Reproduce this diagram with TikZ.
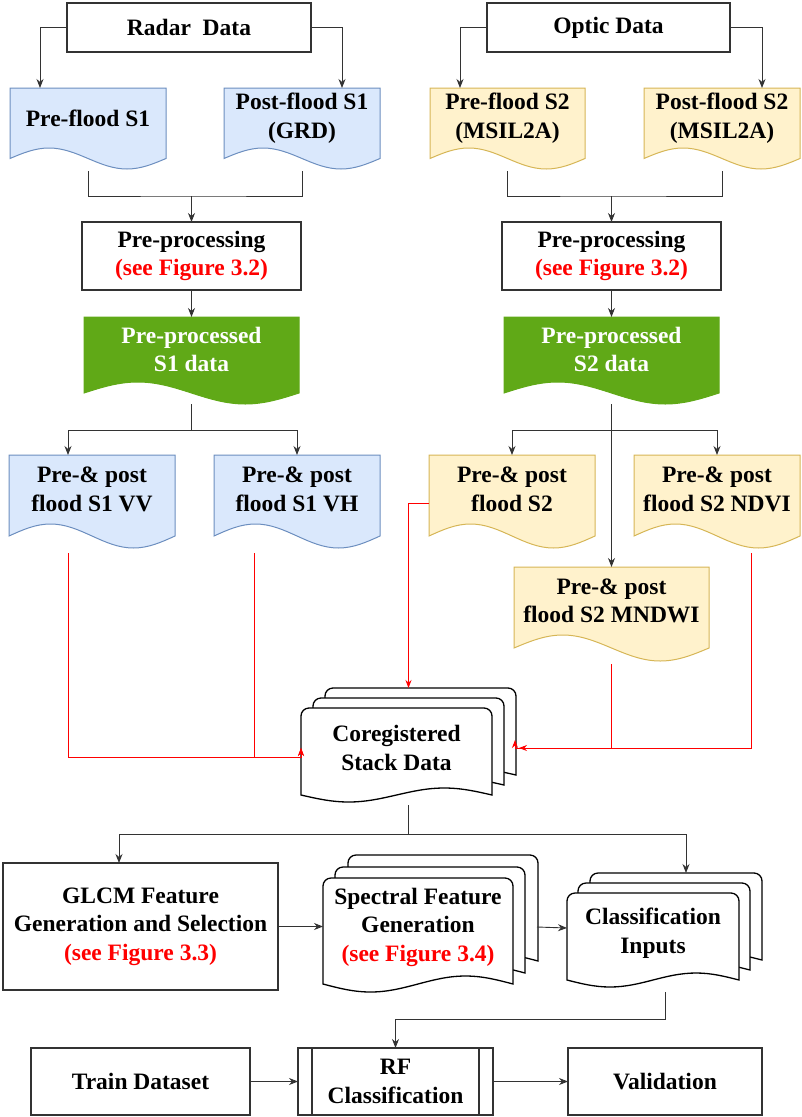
\documentclass[tikz,border=0pt]{standalone}
\usepackage{fontspec}
\setmainfont{Liberation Serif}
\usetikzlibrary{arrows.meta,calc,backgrounds}

\definecolor{linie}{HTML}{333333}
\definecolor{blaufill}{HTML}{DAE8FC}
\definecolor{blaurand}{HTML}{6C8EBF}
\definecolor{gelbfill}{HTML}{FFF2CC}
\definecolor{gelbrand}{HTML}{D6B656}
\definecolor{gruen}{HTML}{60A917}
\definecolor{rot}{HTML}{FF0000}

% Dokument: Rechteck mit Welle unten
\newcommand{\dokument}[3][]{%
  \path[#1] (#2.north west) -- (#2.north east) -- ([yshift=-#3pt]#2.south east)
    sin ($(#2.south west)!.75!(#2.south east)+(0,-2*#3pt)$)
    cos ($(#2.south west)!.5!(#2.south east)+(0,-#3pt)$)
    sin ($(#2.south west)!.25!(#2.south east)$)
    cos ([yshift=-#3pt]#2.south west) -- cycle;}

% ein Blatt eines Stapels, verschoben um #4
\newcommand{\blatt}[4][]{%
  \coordinate (bnw) at ([shift={(#4)}]#2.north west);
  \coordinate (bne) at ([shift={(#4)}]#2.north east);
  \coordinate (bsw) at ([shift={(#4)}]#2.south west);
  \coordinate (bse) at ([shift={(#4)}]#2.south east);
  \path[#1] ([yshift=-#3pt]bsw) [rounded corners=8pt] -- (bnw) -- (bne) [sharp corners] -- ([yshift=-#3pt]bse)
    sin ($(bsw)!.75!(bse)$)
    cos ($(bsw)!.5!(bse)+(0,-#3pt)$)
    sin ($(bsw)!.25!(bse)+(0,-2*#3pt)$)
    cos ([yshift=-#3pt]bsw) -- cycle;}

\begin{document}
\begin{tikzpicture}[x=1pt,y=1pt,
    every node/.style={font=\bfseries\fontsize{23.5}{28.5}\selectfont, align=center, inner sep=0pt, outer sep=0pt},
    kasten/.style={draw=linie, line width=1.1pt},
    blau/.style={fill=blaufill, draw=blaurand, line width=1pt},
    gelb/.style={fill=gelbfill, draw=gelbrand, line width=1pt},
    gruenblatt/.style={fill=gruen, draw=gruen, line width=1pt},
    stapel/.style={fill=white, draw=black, line width=1.3pt},
    linie/.style={draw=linie, line width=0.9pt},
    pfeil/.style={linie, -{Stealth[length=9pt,width=7pt]}},
    rotpfeil/.style={draw=rot, line width=0.8pt, -{Stealth[length=8pt,width=6pt]}}]

    \useasboundingbox (0,0) rectangle (801,-1117);

    % Eingangsdaten
    \node [kasten, minimum width=244pt, minimum height=49pt] (radar) at (189,-27.5) {Radar\ \ Data};
    \node [kasten, minimum width=243pt, minimum height=49pt] (optik) at (608.5,-27.5) {Optic Data};

    \node [minimum width=156pt, minimum height=60pt] (vorsa) at (88,-118) {Pre-flood S1};
    \node [minimum width=156pt, minimum height=60pt] (nachsa) at (302,-118) {Post-flood S1\\(GRD)};
    \node [minimum width=155pt, minimum height=60pt] (vorsb) at (507.5,-118) {Pre-flood S2\\(MSIL2A)};
    \node [minimum width=156pt, minimum height=60pt] (nachsb) at (722,-118) {Post-flood S2\\(MSIL2A)};

    % Vorverarbeitung
    \node [kasten, minimum width=219pt, minimum height=68pt] (vorverarbeitunga) at (191.5,-256) {Pre-processing\\\textcolor{rot}{(see Figure 3.2)}};
    \node [kasten, minimum width=219pt, minimum height=68pt] (vorverarbeitungb) at (611.5,-256) {Pre-processing\\\textcolor{rot}{(see Figure 3.2)}};

    \node [minimum width=215pt, minimum height=65pt, text=white] (fertiga) at (191.5,-349.5) {Pre-processed\\S1 data};
    \node [minimum width=215pt, minimum height=65pt, text=white] (fertigb) at (611.5,-349.5) {Pre-processed\\S2 data};

    % Produkte
    \node [minimum width=166pt, minimum height=69pt] (vv) at (92,-489.5) {Pre-\& post\\flood S1 VV};
    \node [minimum width=166pt, minimum height=69pt] (vh) at (297,-489.5) {Pre-\& post\\flood S1 VH};
    \node [minimum width=166pt, minimum height=69pt] (sb) at (512,-489.5) {Pre-\& post\\flood S2};
    \node [minimum width=166pt, minimum height=69pt] (ndvi) at (717,-489.5) {Pre-\& post\\flood S2 NDVI};
    \node [minimum width=195pt, minimum height=68pt] (mndwi) at (611.5,-601) {Pre-\& post\\flood S2 MNDWI};

    \node [minimum width=191pt, minimum height=80pt] (stapel) at (396.5,-748) {Coregistered\\Stack Data};

    % Merkmale und Klassifikation
    \node [kasten, minimum width=275pt, minimum height=127pt] (glcm) at (140.5,-926.5) {GLCM Feature\\Generation and Selection\\\textcolor{rot}{(see Figure 3.3)}};
    \node [minimum width=190pt, minimum height=98pt] (spektral) at (418,-927) {Spectral Feature\\Generation\\\textcolor{rot}{(see Figure 3.4)}};
    \node [minimum width=172pt, minimum height=80pt] (eingabe) at (653,-933) {Classification\\Inputs};

    \node [kasten, minimum width=219pt, minimum height=67pt] (training) at (140.5,-1081.5) {Train Dataset};
    \node [kasten, minimum width=195pt, minimum height=67pt] (rf) at (395.5,-1081.5) {RF\\Classification};
    \node [kasten, minimum width=194pt, minimum height=67pt] (validierung) at (665,-1081.5) {Validation};
    \draw [kasten] ([xshift=14pt]rf.north west) -- ([xshift=14pt]rf.south west);
    \draw [kasten] ([xshift=-14pt]rf.north east) -- ([xshift=-14pt]rf.south east);

    % Formen hinter den Texten
    \begin{scope}[on background layer]
        \dokument[blau]{vorsa}{10.5}
        \dokument[blau]{nachsa}{10.5}
        \dokument[gelb]{vorsb}{10.5}
        \dokument[gelb]{nachsb}{10.5}
        \dokument[gruenblatt]{fertiga}{11}
        \dokument[gruenblatt]{fertigb}{11}
        \dokument[blau]{vv}{12}
        \dokument[blau]{vh}{12}
        \dokument[gelb]{sb}{12}
        \dokument[gelb]{ndvi}{12}
        \dokument[gelb]{mndwi}{13}
        \foreach \versatz in {{24pt,20pt},{12pt,10pt},{0pt,0pt}}
            \blatt[stapel]{stapel}{7}{\versatz};
        \foreach \versatz in {{25pt,23pt},{12pt,11pt},{0pt,0pt}}
            \blatt[stapel]{spektral}{8}{\versatz};
        \foreach \versatz in {{23pt,20pt},{11pt,10pt},{0pt,0pt}}
            \blatt[stapel]{eingabe}{7}{\versatz};
    \end{scope}

    % Verbindungen oben
    \draw [pfeil] (radar.west) -| ([xshift=30pt]vorsa.north west);
    \draw [pfeil] (radar.east) -| ([xshift=-38pt]nachsa.north east);
    \draw [pfeil] (optik.west) -| ([xshift=30pt]vorsb.north west);
    \draw [pfeil] (optik.east) -| ([xshift=-38pt]nachsb.north east);

    \draw [linie] ([yshift=-23pt]vorsa.south) |- ([yshift=26pt]vorverarbeitunga.north) -| ([yshift=-23pt]nachsa.south);
    \draw [pfeil] ([yshift=26pt]vorverarbeitunga.north) -- (vorverarbeitunga.north);
    \draw [linie] ([yshift=-23pt]vorsb.south) |- ([yshift=26pt]vorverarbeitungb.north) -| ([yshift=-23pt]nachsb.south);
    \draw [pfeil] ([yshift=26pt]vorverarbeitungb.north) -- (vorverarbeitungb.north);

    \draw [pfeil] (vorverarbeitunga) -- (fertiga);
    \draw [pfeil] (vorverarbeitungb) -- (fertigb);

    % Verzweigung zu den Produkten
    \coordinate (knotena) at ($(fertiga.south |- vh.north)+(0,25pt)$);
    \draw [linie] ([yshift=-22pt]fertiga.south) -- (knotena);
    \draw [pfeil] (knotena) -| ([xshift=59pt]vv.north west);
    \draw [pfeil] (knotena) -| (vh.north);

    \coordinate (knotenb) at ($(fertigb.south |- sb.north)+(0,25pt)$);
    \draw [pfeil] ([yshift=-22pt]fertigb.south) -- (mndwi.north);
    \draw [pfeil] (knotenb) -| (sb.north);
    \draw [pfeil] (knotenb) -| (ndvi.north);

    % rote Zufuehrungen zum Stapel
    \coordinate (stapelrechts) at ([xshift=24pt]stapel.east);
    \draw [rotpfeil] ([xshift=59pt,yshift=-29pt]vv.south west) |- ([yshift=-9pt]stapel.west) -- (stapel.west);
    \draw [rotpfeil] ([xshift=40pt,yshift=-29pt]vh.south west) |- ([yshift=-9pt]stapel.west) -- (stapel.west);
    \draw [rotpfeil] ([yshift=-14pt]sb.west) -| ([xshift=12pt,yshift=20pt]stapel.north);
    \draw [rotpfeil] ([yshift=-29pt]mndwi.south) |- ([xshift=-1pt]stapelrechts) -- ([xshift=-1pt,yshift=8pt]stapelrechts);
    \draw [rotpfeil] ([xshift=117pt,yshift=-29pt]ndvi.south west) |- ([xshift=3pt]stapelrechts);

    % Verbindungen unten
    \coordinate (knotenc) at ([xshift=12pt,yshift=-46pt]stapel.south);
    \draw [linie] ([xshift=12pt,yshift=-17pt]stapel.south) -- (knotenc);
    \draw [pfeil] (knotenc) -| ([xshift=116pt]glcm.north west);
    \draw [pfeil] (knotenc) -| ([xshift=33pt,yshift=20pt]eingabe.north);

    \draw [pfeil] (glcm.east) -- (glcm.east -| spektral.west);
    \draw [pfeil] ([xshift=24pt]spektral.east) -- ([yshift=5pt]eingabe.west);
    \draw [pfeil] ([xshift=12pt,yshift=-19pt]eingabe.south) |- ([yshift=29pt]rf.north) -- (rf.north);

    \draw [pfeil] (training) -- (rf);
    \draw [pfeil] (rf) -- (validierung);

\end{tikzpicture}
\end{document}
